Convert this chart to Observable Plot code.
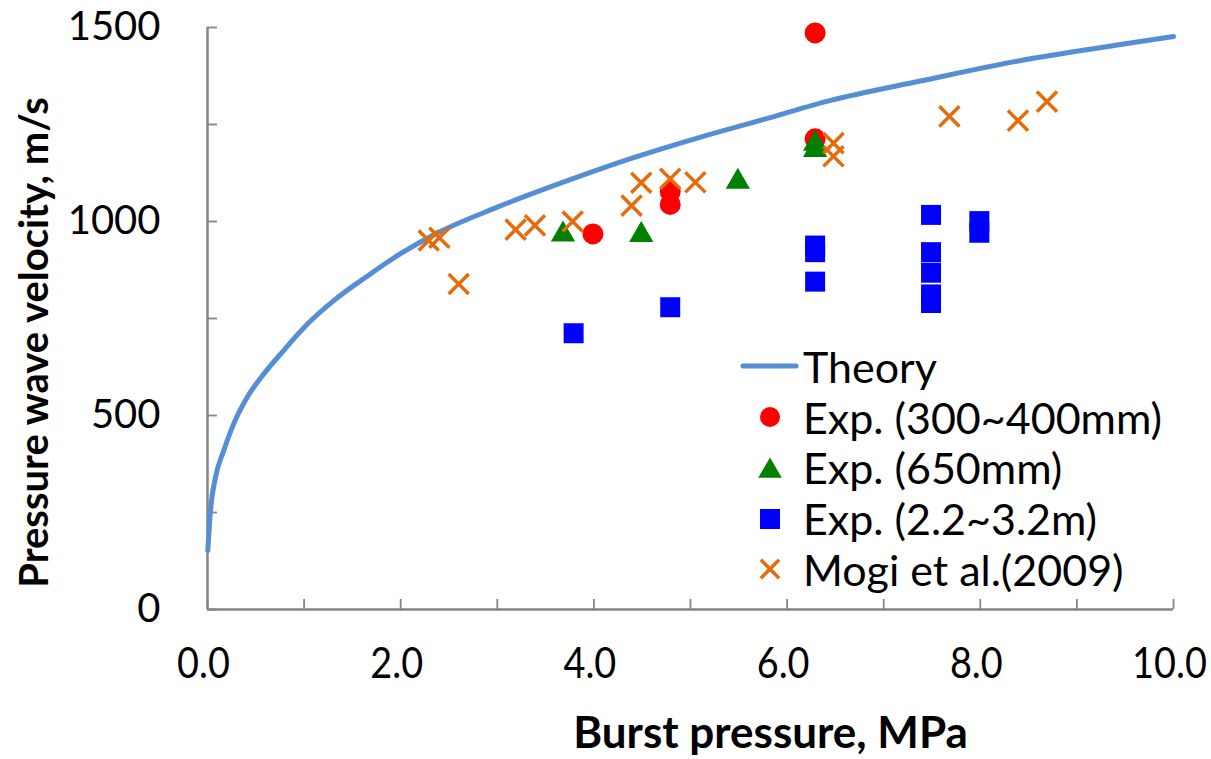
<!DOCTYPE html>
<html><head><meta charset="utf-8">
<script src="https://cdn.jsdelivr.net/npm/d3@7"></script>
<script src="https://cdn.jsdelivr.net/npm/@observablehq/plot@0.6"></script>
<style>
html,body{margin:0;padding:0;background:#fff;}
#wrap{position:relative;width:1211px;height:759px;overflow:hidden;}
#legend{position:absolute;left:740px;top:341px;font-family:Lato,"Open Sans",sans-serif;font-size:43px;color:#000;}
.row{display:flex;align-items:center;height:50.75px;}
.row svg{width:60px;height:50px;flex:none;display:block;}
.row span{margin-left:3px;white-space:pre;line-height:1;}
</style></head><body><div id="wrap"></div>
<script>
// ---- data ----
const xTicks = [0,1,2,3,4,5,6,7,8,9,10];
const xTickLabels = [0,2,4,6,8,10];
const yTicks = [0,250,500,750,1000,1250,1500];
const yTickLabels = [0,500,1000,1500];

const theoryP = [0.003,0.031,0.083,0.169,0.272,0.411,0.583,0.790,1.032,1.307,1.653,1.998,2.343,3.0,3.69,4.38,5.07,5.76,6.45,7.38,8.42,9.45,10.0];
const theoryV = [152,255,341,410,479,547,607,668,735,796,859,917,966,1037,1102,1162,1215,1263,1312,1362,1415,1456,1477];

const redP = [3.99,4.79,4.79,6.29,6.29];
const redV = [968,1044,1077,1486,1213];

const greenP = [3.68,4.49,5.49,6.29,6.29];
const greenV = [974,973,1110,1208,1192];

const blueP = [3.79,4.79,6.29,6.29,6.29,7.49,7.49,7.49,7.49,7.49,7.99,7.99];
const blueV = [712,779,938,921,845,1017,921,868,812,790,1001,971];

const mogiP = [2.29,2.40,2.60,3.19,3.39,3.78,4.39,4.49,4.79,5.05,6.48,6.48,7.68,8.39,8.69];
const mogiV = [951,958,839,979,990,1000,1041,1100,1110,1101,1202,1168,1271,1260,1309];

const seriesNames = ["Theory","Exp. (300~400mm)","Exp. (650mm)","Exp. (2.2~3.2m)","Mogi et al.(2009)"];

// ---- styles ----
const C = {line:"#558ED5", red:"#FF0000", green:"#008000", blue:"#0000FF", orange:"#E46C0A", axis:"#868686"};
const zip = (xs, ys) => xs.map((x,i)=>({x, y: ys[i]}));
const fontMain = "Lato, 'Open Sans', sans-serif";

const chart = Plot.plot({
  width: 1211, height: 759,
  marginLeft: 207, marginRight: 38, marginTop: 27, marginBottom: 150,
  x: {domain: [0, 10], axis: null},
  y: {domain: [0, 1500], axis: null},
  style: {background: "white", overflow: "visible"},
  marks: [
    Plot.ruleY([0], {stroke: C.axis, strokeWidth: 2.5}),
    Plot.ruleX([0], {stroke: C.axis, strokeWidth: 2.5}),
    Plot.tickX(xTicks, {x: d => d, stroke: C.axis, strokeWidth: 1.8, insetTop: 572}),
    Plot.tickY(yTicks, {y: d => d, stroke: C.axis, strokeWidth: 1.8, insetRight: 956}),
    Plot.text(xTickLabels, {x: d => d, y: d => 0, text: d => d.toFixed(1), dx: -4, dy: 55, fontSize: 43, fontFamily: fontMain, fill: "#000", lineAnchor: "middle", className: "xlab"}),
    Plot.text(yTickLabels, {x: d => 0, y: d => d, text: d => String(d), textAnchor: "end", dx: -47, fontSize: 40, fontFamily: fontMain, fill: "#000", lineAnchor: "middle"}),
    Plot.text(["Burst pressure, MPa"], {frameAnchor: "bottom", textAnchor: "middle", lineAnchor: "middle", dx: 80, dy: 124, fontSize: 44, fontWeight: "bold", fontFamily: fontMain, fill: "#000", className: "xtitle"}),
    Plot.text(["Pressure wave velocity, m/s"], {frameAnchor: "left", textAnchor: "middle", lineAnchor: "middle", rotate: -90, dx: -172, dy: 24, fontSize: 40, fontWeight: "bold", fontFamily: fontMain, fill: "#000"}),
    Plot.line(zip(theoryP, theoryV), {x: "x", y: "y", stroke: C.line, strokeWidth: 5, curve: "monotone-x"}),
    Plot.dot(zip(redP, redV), {x: "x", y: "y", r: 10.5, fill: C.red, symbol: "circle"}),
    Plot.dot(zip(greenP, greenV), {x: "x", y: "y", r: 9, fill: C.green, symbol: "triangle", dy: 3}),
    Plot.dot(zip(blueP, blueV), {x: "x", y: "y", r: 11.28, fill: C.blue, symbol: "square"}),
    Plot.dot(zip(mogiP, mogiV), {x: "x", y: "y", r: 9.2, stroke: C.orange, strokeWidth: 3.5, fill: "none", symbol: "times"})
  ]
});

const wrap = document.getElementById("wrap");
wrap.appendChild(chart);

// horizontal condensing of the narrow axis texts (the reference uses a condensed face)
function squeeze(sel, fx) {
  d3.select(chart).selectAll(sel).each(function () {
    const t = d3.select(this);
    const s = typeof fx === "function" ? fx(this) : fx;
    let tr = t.attr("transform");
    if (!tr) {
      tr = `translate(${+t.attr("x") || 0},${+t.attr("y") || 0})`;
      t.attr("x", null).attr("y", null);
    }
    t.attr("transform", tr + ` scale(${s},1)`);
  });
}
squeeze("g.xlab text", 0.88);
squeeze("g.xtitle text", el => Math.min(1, 396 / el.getComputedTextLength()));

// ---- legend ----
const legend = document.createElement("div");
legend.id = "legend";
const sym = (type, size) => d3.symbol(type, size)();
const swatches = [
  `<line x1="3" y1="25" x2="56" y2="25" stroke="${C.line}" stroke-width="5" stroke-linecap="round"/>`,
  `<circle cx="30" cy="25" r="10" fill="${C.red}"/>`,
  `<path transform="translate(30,28)" d="${sym(d3.symbolTriangle, 240)}" fill="${C.green}"/>`,
  `<rect x="20" y="15" width="20" height="20" fill="${C.blue}"/>`,
  `<path transform="translate(30,25)" d="${sym(d3.symbolTimes, 220)}" stroke="${C.orange}" stroke-width="3.5" fill="none"/>`
];
seriesNames.forEach((name, i) => {
  const row = document.createElement("div");
  row.className = "row";
  row.innerHTML = `<svg viewBox="0 0 60 50">${swatches[i]}</svg><span>${name}</span>`;
  legend.appendChild(row);
});
wrap.appendChild(legend);
</script>
</body></html>
